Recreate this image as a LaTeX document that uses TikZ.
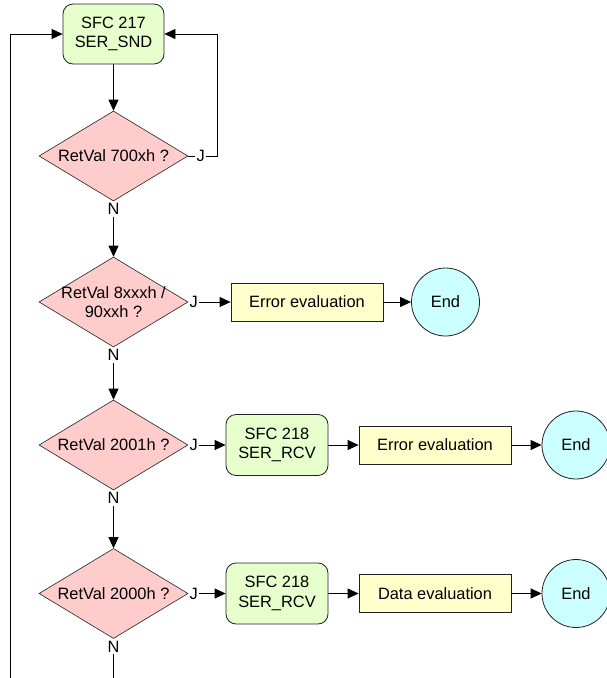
\documentclass[tikz,border=0pt]{standalone}
\usepackage{fontspec}
\setmainfont{Liberation Sans}
\usetikzlibrary{shapes.geometric,arrows.meta}
\definecolor{boxgreen}{HTML}{E6FFCC}
\definecolor{boxpink}{HTML}{FFCCCC}
\definecolor{boxyellow}{HTML}{FFFFCC}
\definecolor{boxcyan}{HTML}{CCFFFF}
\definecolor{linec}{HTML}{222222}
\begin{document}
\begin{tikzpicture}[x=1pt,y=-1pt,
  font=\fontsize{16.4}{19.5}\selectfont,
  sfcbox/.style={draw=linec, line width=0.8pt, fill=boxgreen, rounded corners=10pt, minimum width=102pt, minimum height=61pt, inner sep=0pt, align=center},
  evalbox/.style={draw=linec, line width=0.8pt, fill=boxyellow, minimum width=152pt, minimum height=38pt, inner sep=0pt},
  endnode/.style={circle, draw=linec, line width=0.8pt, fill=boxcyan, minimum size=68pt, inner sep=0pt},
  dia/.style={diamond, draw=linec, line width=0.6pt, fill=boxpink, minimum width=149pt, minimum height=90pt, inner sep=0pt},
  dtext/.style={align=center, inner sep=0pt},
  jlabel/.style={anchor=west, inner sep=1pt},
  nlabel/.style={anchor=north, inner sep=2pt},
  flow/.style={-{Triangle[length=11pt,width=10pt]}, line width=0.8pt, draw=black},
  plain/.style={line width=0.8pt, draw=black}]
\useasboundingbox (0,0) rectangle (606,678);

% top block
\node[sfcbox, minimum width=101pt, minimum height=60pt] (s1) at (113.5,34) {SFC 217\\SER\_SND};

% diamond 1
\node[dia] (d1) at (113.5,156) {};
\node[dtext] (d1t) at (d1.center) {RetVal 700xh ?};
\node[jlabel] (j1) at ([xshift=7pt]d1.east) {J};
\node[nlabel] (n1) at (d1.south) {N};
\coordinate (rc) at (217,34);
\draw[plain] (d1.east) -- (j1.west);
\draw[flow] (s1.south) -- (d1.north);
\draw[flow] (j1.east) -| (rc) -- (s1.east);

% diamond 2
\node[dia] (d2) at (113.5,302) {};
\node[dtext] (d2t) at (d2.center) {RetVal 8xxxh /\\90xxh ?};
\node[jlabel] (j2) at (d2.east) {J};
\node[nlabel] (n2) at (d2.south) {N};
\node[evalbox] (e1) at (307,302) {Error evaluation};
\node[endnode] (end1) at (445.5,302) {End};
\draw[flow] (n1.south) -- (d2.north);
\draw[flow] (j2.east) -- (e1.west);
\draw[flow] (e1.east) -- (end1.west);

% diamond 3
\node[dia] (d3) at (113.5,445) {};
\node[dtext] (d3t) at (d3.center) {RetVal 2001h ?};
\node[jlabel] (j3) at (d3.east) {J};
\node[nlabel] (n3) at (d3.south) {N};
\node[sfcbox] (s2) at (277,445) {SFC 218\\SER\_RCV};
\node[evalbox] (e2) at (435,445) {Error evaluation};
\node[endnode] (end2) at (576,445) {End};
\draw[flow] (n2.south) -- (d3.north);
\draw[flow] (j3.east) -- (s2.west);
\draw[flow] (s2.east) -- (e2.west);
\draw[flow] (e2.east) -- (end2.west);

% diamond 4
\node[dia] (d4) at (113.5,593.5) {};
\node[dtext] (d4t) at (d4.center) {RetVal 2000h ?};
\node[jlabel] (j4) at (d4.east) {J};
\node[nlabel] (n4) at (d4.south) {N};
\node[sfcbox] (s3) at (277,593.5) {SFC 218\\SER\_RCV};
\node[evalbox] (e3) at (435,593.5) {Data evaluation};
\node[endnode] (end3) at (576,593.5) {End};
\draw[flow] (n3.south) -- (d4.north);
\draw[flow] (j4.east) -- (s3.west);
\draw[flow] (s3.east) -- (e3.west);
\draw[flow] (e3.east) -- (end3.west);

% bottom continuation and left loop
\coordinate (nb) at (113.5,678);
\coordinate (lb) at (10,678);
\draw[plain] (n4.south) -- (nb);
\draw[flow] (lb) |- (s1.west);
\end{tikzpicture}
\end{document}
